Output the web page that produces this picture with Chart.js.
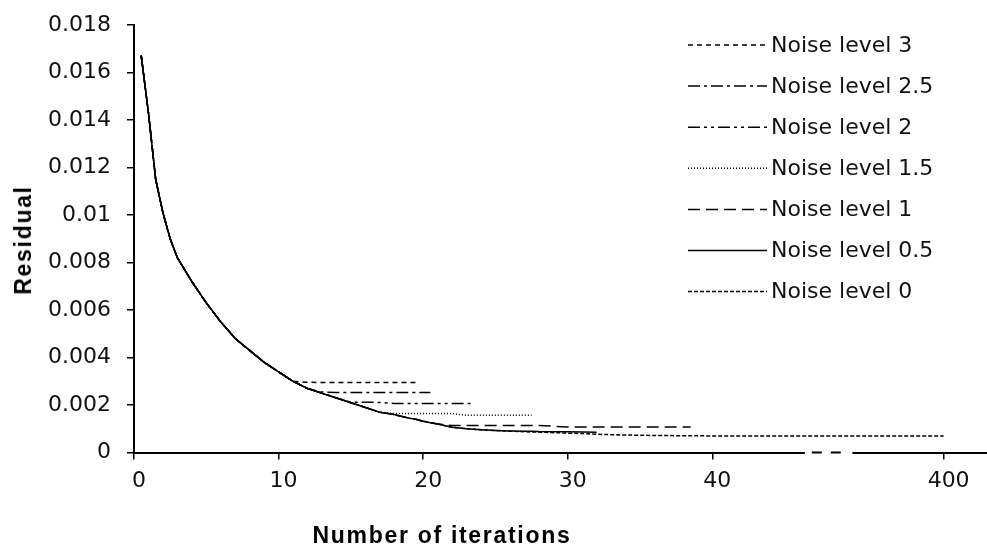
<!DOCTYPE html>
<html>
<head>
<meta charset="utf-8">
<script src="https://cdn.jsdelivr.net/npm/chart.js@4.4.1/dist/chart.umd.min.js"></script>
<style>
  body { margin: 0; background: #fff; }
  #wrap { position: relative; width: 987px; height: 553px; }
  .axis-title {
    position: absolute;
    font-family: "Liberation Sans", Arial, sans-serif;
    font-weight: bold;
    font-size: 23px;
    line-height: 26px;
    letter-spacing: 1.7px;
    color: #000;
    white-space: nowrap;
  }
  #xTitle { left: 242px; width: 400px; text-align: center; top: 522px; }
  #yTitle { left: 23px; top: 240px; transform: translate(-50%, -50%) rotate(-90deg); }
</style>
</head>
<body>
<div id="wrap">
  <canvas id="residualChart" width="987" height="553"></canvas>
  <div class="axis-title" id="xTitle">Number of iterations</div>
  <div class="axis-title" id="yTitle">Residual</div>
</div>
<script>
// iteration numbers shared by every series
const iterations = [0.5, 1, 1.5, 2, 2.5, 3, 4, 5, 6, 7, 8, 9, 10, 11, 12, 13, 14, 15, 16, 17, 18, 19,
  19.5, 20, 20.5, 21, 22, 23, 23.5, 24, 25, 26, 27, 27.5, 28, 30, 31, 32, 34, 36, 38, 38.5, 40, 400];

// residuals (null = series already stopped)
const noise3 = [0.0167, 0.0143, 0.0115, 0.0101, 0.0090, 0.0082, 0.0072, 0.0063, 0.0055, 0.0048, 0.0043, 0.0038, 0.0034,
  0.0030, 0.00296, 0.00295, 0.00295, 0.00295, 0.00295, 0.00295, 0.00295, 0.00295, 0.00295,
  null, null, null, null, null, null, null, null, null, null, null, null, null, null, null, null, null, null, null, null, null];
const noise25 = [0.0167, 0.0143, 0.0115, 0.0101, 0.0090, 0.0082, 0.0072, 0.0063, 0.0055, 0.0048, 0.0043, 0.0038, 0.0034,
  0.0030, 0.0027, 0.00255, 0.00253, 0.00253, 0.00253, 0.00253, 0.00253, 0.00253, 0.00253, 0.00253, 0.00253,
  null, null, null, null, null, null, null, null, null, null, null, null, null, null, null, null, null, null, null];
const noise2 = [0.0167, 0.0143, 0.0115, 0.0101, 0.0090, 0.0082, 0.0072, 0.0063, 0.0055, 0.0048, 0.0043, 0.0038, 0.0034,
  0.0030, 0.0027, 0.0025, 0.0023, 0.00212, 0.00212, 0.00211, 0.00207, 0.00207, 0.00207, 0.00207, 0.00207,
  0.00207, 0.00207, 0.00207, 0.00207,
  null, null, null, null, null, null, null, null, null, null, null, null, null, null, null];
const noise15 = [0.0167, 0.0143, 0.0115, 0.0101, 0.0090, 0.0082, 0.0072, 0.0063, 0.0055, 0.0048, 0.0043, 0.0038, 0.0034,
  0.0030, 0.0027, 0.0025, 0.0023, 0.0021, 0.0019, 0.0017, 0.00164, 0.00164, 0.00164, 0.00164, 0.00164,
  0.00164, 0.00164, 0.00157, 0.00157, 0.00157, 0.00157, 0.00157, 0.00157, 0.00157,
  null, null, null, null, null, null, null, null, null, null];
const noise1 = [0.0167, 0.0143, 0.0115, 0.0101, 0.0090, 0.0082, 0.0072, 0.0063, 0.0055, 0.0048, 0.0043, 0.0038, 0.0034,
  0.0030, 0.0027, 0.0025, 0.0023, 0.0021, 0.0019, 0.0017, 0.0016, 0.00145, 0.0014, 0.00132, 0.00126,
  0.0012, 0.00114, 0.00114, 0.00114, 0.00114, 0.00114, 0.00114, 0.00114, 0.00114, 0.00114,
  0.00108, 0.00108, 0.00108, 0.00108, 0.00108, 0.00108, 0.00108, null, null];
const noise05 = [0.0167, 0.0143, 0.0115, 0.0101, 0.0090, 0.0082, 0.0072, 0.0063, 0.0055, 0.0048, 0.0043, 0.0038, 0.0034,
  0.0030, 0.0027, 0.0025, 0.0023, 0.0021, 0.0019, 0.0017, 0.0016, 0.00145, 0.0014, 0.00132, 0.00126,
  0.0012, 0.00107, 0.00100, 0.00098, 0.00096, 0.00093, 0.00091, 0.00090, 0.00090, 0.00089, 0.00088, 0.00087, 0.00086,
  null, null, null, null, null, null];
const noise0 = [0.0167, 0.0143, 0.0115, 0.0101, 0.0090, 0.0082, 0.0072, 0.0063, 0.0055, 0.0048, 0.0043, 0.0038, 0.0034,
  0.0030, 0.0027, 0.0025, 0.0023, 0.0021, 0.0019, 0.0017, 0.0016, 0.00145, 0.0014, 0.00132, 0.00126,
  0.0012, 0.00107, 0.00100, 0.00098, 0.00096, 0.00093, 0.00090, 0.00088, 0.00087, 0.00086,
  0.00082, 0.00080, 0.00077, 0.00074, 0.00072, 0.00071, 0.00071, 0.00070, 0.00070];

const seriesLabels = ["Noise level 3", "Noise level 2.5", "Noise level 2", "Noise level 1.5",
  "Noise level 1", "Noise level 0.5", "Noise level 0"];
const seriesValues = [noise3, noise25, noise2, noise15, noise1, noise05, noise0];
const seriesDashes = [[5, 4], [12, 4, 3, 4], [12, 4, 3, 4, 3, 4], [1, 2], [12, 6], [], [4, 2]];

const xTickLabels = [0, 10, 20, 30, 40, 400];
const yTickValues = [0, 0.002, 0.004, 0.006, 0.008, 0.01, 0.012, 0.014, 0.016, 0.018];

// the x axis is broken after 40: 40..400 gets squeezed into a short stretch
const BREAK_AT = 40;
const TAIL_SQUEEZE = 16 / 360;
const gapFrom = 184, gapTo = 258; // iterations where the axis line is broken
function axisPos(it) {
  return it <= BREAK_AT ? it : BREAK_AT + (it - BREAK_AT) * TAIL_SQUEEZE;
}

const FONT = '"DejaVu Sans", Verdana, sans-serif';

// legend drawn on top of the plot, on the right side
const sideLegend = {
  id: 'sideLegend',
  afterDatasetsDraw(chart) {
    const ctx = chart.ctx;
    ctx.save();
    ctx.font = '22px ' + FONT;
    ctx.textBaseline = 'middle';
    ctx.fillStyle = '#111';
    chart.data.datasets.forEach((ds, i) => {
      const y = 45 + i * 41.1;
      ctx.strokeStyle = ds.borderColor;
      ctx.lineWidth = ds.borderWidth;
      ctx.setLineDash(ds.borderDash);
      ctx.beginPath();
      ctx.moveTo(688, y);
      ctx.lineTo(767, y);
      ctx.stroke();
      ctx.fillText(ds.label, 771, y + 1);
    });
    ctx.restore();
  }
};

// little dashed gap in the x axis line
const axisBreak = {
  id: 'axisBreak',
  afterDraw(chart) {
    const ctx = chart.ctx;
    const xs = chart.scales.x;
    const y = chart.chartArea.bottom;
    const a = xs.getPixelForValue(axisPos(gapFrom));
    const b = xs.getPixelForValue(axisPos(gapTo));
    ctx.save();
    ctx.fillStyle = '#fff';
    ctx.fillRect(a, y - 2, b - a, 4);
    ctx.strokeStyle = '#000';
    ctx.lineWidth = 2;
    ctx.setLineDash([10, 9]);
    ctx.beginPath();
    ctx.moveTo(a + 7, y);
    ctx.lineTo(b - 5, y);
    ctx.stroke();
    ctx.restore();
  }
};

new Chart(document.getElementById('residualChart'), {
  type: 'line',
  data: {
    datasets: seriesLabels.map((label, s) => ({
      label: label,
      data: iterations.map((it, i) => ({ x: axisPos(it), y: seriesValues[s][i] })),
      borderColor: '#000',
      borderWidth: 1.5,
      borderDash: seriesDashes[s],
      pointRadius: 0,
      tension: 0,
      fill: false,
      spanGaps: false
    }))
  },
  options: {
    responsive: false,
    animation: false,
    layout: { padding: { top: 0, right: 0, bottom: 51, left: 32 } },
    plugins: { legend: { display: false }, tooltip: { enabled: false } },
    scales: {
      x: {
        type: 'linear',
        min: 0,
        max: 59,
        afterBuildTicks: scale => { scale.ticks = xTickLabels.map(it => ({ value: axisPos(it) })); },
        ticks: {
          callback: (v, i) => String(xTickLabels[i]),
          font: { family: FONT, size: 22 },
          color: '#111',
          padding: 8,
          labelOffset: 5,
          maxRotation: 0,
          autoSkip: false
        },
        grid: { drawOnChartArea: false, color: '#000', lineWidth: 1.5, tickLength: 7 },
        border: { color: '#000', width: 2 }
      },
      y: {
        min: 0,
        max: 0.018,
        afterBuildTicks: scale => { scale.ticks = yTickValues.map(v => ({ value: v })); },
        ticks: {
          callback: v => String(+v.toFixed(3)),
          font: { family: FONT, size: 22, lineHeight: 0.8 },
          color: '#111',
          padding: 16
        },
        grid: { drawOnChartArea: false, color: '#000', lineWidth: 1.5, tickLength: 7 },
        border: { color: '#000', width: 2 }
      }
    }
  },
  plugins: [sideLegend, axisBreak]
});
</script>
</body>
</html>
